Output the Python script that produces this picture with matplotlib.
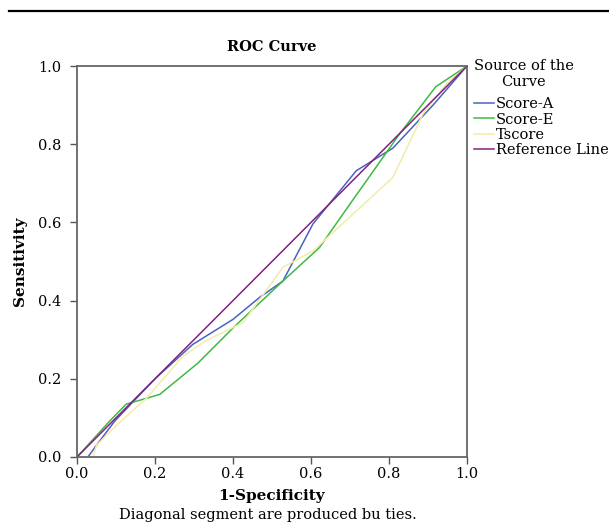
import matplotlib
matplotlib.use("Agg")
import matplotlib.pyplot as plt
from matplotlib.lines import Line2D

plt.rcParams['font.family'] = ['DejaVu Serif']

# ROC curves (1-specificity, sensitivity)
score_a_x = [0.028, 0.05, 0.097, 0.2, 0.297, 0.4, 0.468, 0.528, 0.605, 0.716, 0.81, 0.913, 1.0]
score_a_y = [0.0, 0.03, 0.092, 0.2, 0.288, 0.352, 0.408, 0.45, 0.596, 0.732, 0.79, 0.90, 1.0]

score_e_x = [0.0, 0.084, 0.126, 0.212, 0.31, 0.4, 0.528, 0.622, 0.70, 0.827, 0.92, 1.0]
score_e_y = [0.0, 0.092, 0.135, 0.16, 0.24, 0.33, 0.45, 0.536, 0.647, 0.826, 0.947, 1.0]

tscore_x = [0.041, 0.05, 0.1, 0.178, 0.272, 0.33, 0.426, 0.528, 0.605, 0.81, 0.887, 0.947, 1.0]
tscore_y = [0.0, 0.03, 0.08, 0.15, 0.258, 0.297, 0.344, 0.485, 0.527, 0.715, 0.877, 0.954, 1.0]

ref_x = [0.0, 1.0]
ref_y = [0.0, 1.0]

ticks = [0.0, 0.2, 0.4, 0.6, 0.8, 1.0]

fig = plt.figure(figsize=(6.09, 5.23), dpi=100)
ax = fig.add_axes([0.1264, 0.1262, 0.6404, 0.7476])

ax.plot(score_a_x, score_a_y, color='#4a62c0', lw=1.1, label='Score-A')
ax.plot(score_e_x, score_e_y, color='#3dba44', lw=1.1, label='Score-E')
ax.plot(tscore_x, tscore_y, color='#f2eca8', lw=1.1, label='Tscore')
ax.plot(ref_x, ref_y, color='#85207f', lw=1.1, label='Reference Line')

ax.set_xlim(0, 1)
ax.set_ylim(0, 1)
ax.set_xticks(ticks)
ax.set_yticks(ticks)
ax.set_xticklabels([f"{t:.1f}" for t in ticks])
ax.set_yticklabels([f"{t:.1f}" for t in ticks])
ax.tick_params(direction='out', length=5, width=1, color='#555555', labelsize=10.5)
ax.tick_params(axis='y', pad=6)
ax.tick_params(axis='x', pad=2)
for s in ax.spines.values():
    s.set_color('#666666')
    s.set_linewidth(1.3)

ax.set_title('ROC Curve', fontsize=10.5, fontweight='bold', pad=11)
ax.set_ylabel('Sensitivity', fontsize=11, fontweight='bold', labelpad=8)
ax.set_xlabel('1-Specificity', fontsize=11, fontweight='bold', labelpad=6)

leg = ax.legend(loc='upper left', bbox_to_anchor=(1.0, 1.035), frameon=False,
                title='Source of the\nCurve', fontsize=10.5, title_fontsize=10.5,
                handlelength=1.4, handletextpad=0.15, labelspacing=0.08,
                borderpad=0.35, borderaxespad=0.1, alignment='left')
leg.get_title().set_multialignment('center')
leg._legend_box.sep = 6  # extra gap under the title

fig.text(0.44, 0.008, 'Diagonal segment are produced bu ties.', ha='center', fontsize=10.5)

fig.add_artist(Line2D([9 / 609, 1.0], [1 - 11 / 523, 1 - 11 / 523],
                      transform=fig.transFigure, color='black', lw=1.6))

fig.savefig('out.png', dpi=100)
